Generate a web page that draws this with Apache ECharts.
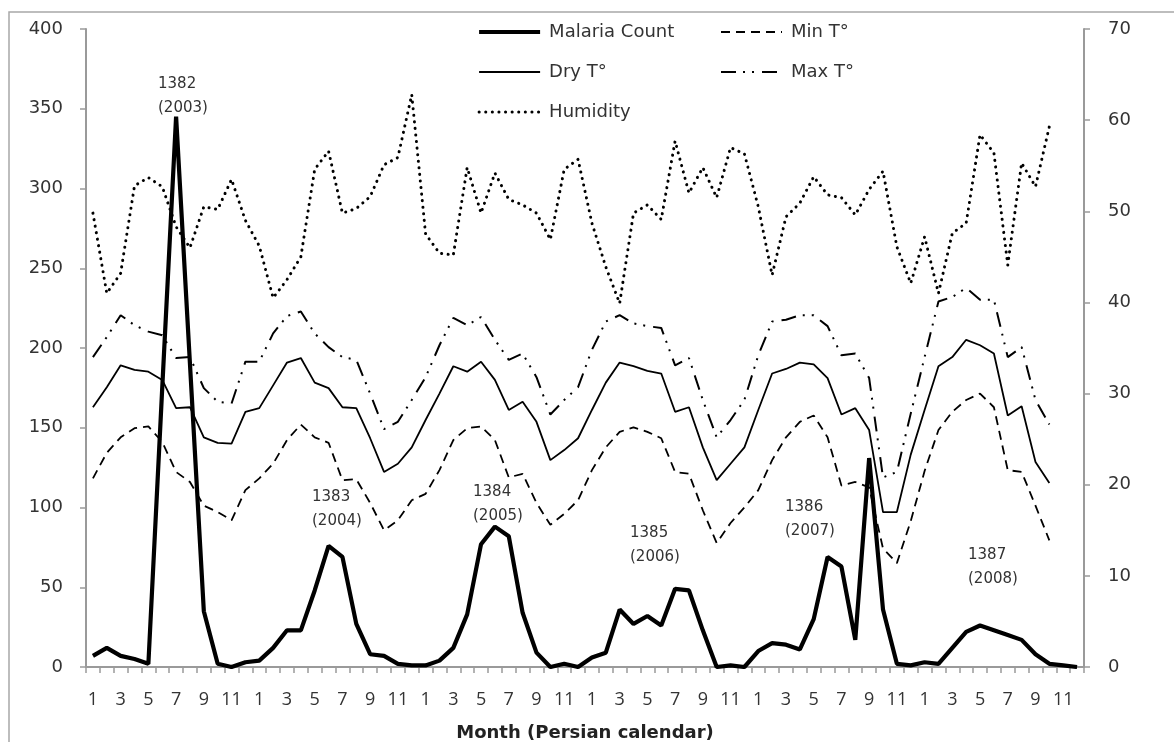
<!DOCTYPE html>
<html>
<head>
<meta charset="utf-8">
<script src="https://cdn.jsdelivr.net/npm/echarts@6/dist/echarts.min.js"></script>
<style>
    html, body { margin: 0; padding: 0; background: #fff; }
    #chart { width: 1174px; height: 742px; }
</style>
</head>
<body>
<div id="chart"></div>
<script>
const FONT = '"Open Sans", "Noto Sans", sans-serif';
const WIDE_FONT = '"DejaVu Sans", "Open Sans", sans-serif';

// month of the Persian calendar, 6 years (1382-1387)
const months = [];
for (let y = 0; y < 6; y++) {
    for (let m = 1; m <= 12; m++) months.push(String(m));
}

// left axis
const malaria = [
    7, 12, 7, 5, 2, 175, 345, 190, 35, 2, 0, 3,
    4, 12, 23, 23, 48, 76, 69, 27, 8, 7, 2, 1,
    1, 4, 12, 33, 77, 88, 82, 34, 9, 0, 2, 0,
    6, 9, 36, 27, 32, 26, 49, 48, 23, 0, 1, 0,
    10, 15, 14, 11, 30, 69, 63, 17, 131, 36, 2, 1,
    3, 2, 12, 22, 26, 23, 20, 17, 8, 2, 1, 0
];

// right axis
const minT = [
    20.7, 23.5, 25.2, 26.2, 26.4, 24.7, 21.4, 20.3, 17.7, 17.0, 16.1, 19.4,
    20.7, 22.3, 24.9, 26.6, 25.2, 24.6, 20.5, 20.6, 18.0, 15.0, 16.1, 18.3,
    19.0, 21.6, 24.9, 26.2, 26.4, 24.9, 20.8, 21.2, 18.0, 15.6, 16.8, 18.3,
    21.6, 24.1, 25.8, 26.3, 25.8, 25.1, 21.4, 21.2, 17.2, 13.6, 15.8, 17.5,
    19.4, 22.7, 25.2, 26.9, 27.6, 25.2, 19.9, 20.3, 19.7, 13.0, 11.4, 16.0,
    21.5, 26.0, 28.0, 29.3, 30.0, 28.5, 21.6, 21.4, 17.7, 13.9, null, null
];
const maxT = [
    34.0, 36.2, 38.6, 37.5, 36.8, 36.4, 33.9, 34.0, 30.6, 29.1, 28.9, 33.5,
    33.5, 36.6, 38.5, 39.0, 36.6, 35.1, 34.0, 33.7, 30.0, 26.1, 26.9, 29.3,
    31.8, 35.3, 38.3, 37.5, 38.4, 35.9, 33.7, 34.4, 31.8, 27.7, 29.3, 30.7,
    34.8, 37.9, 38.6, 37.7, 37.4, 37.2, 33.1, 33.9, 29.3, 25.2, 27.1, 29.3,
    34.2, 37.9, 38.1, 38.6, 38.6, 37.4, 34.2, 34.4, 31.7, 20.8, 21.4, 27.8,
    34.0, 40.1, 40.6, 41.6, 40.3, 40.3, 34.0, 35.1, 29.3, 26.6, null, null
];
const dryT = [
    28.5, 30.7, 33.1, 32.6, 32.4, 31.5, 28.4, 28.5, 25.2, 24.6, 24.5, 28.0,
    28.4, 30.9, 33.4, 33.9, 31.2, 30.6, 28.5, 28.4, 25.1, 21.4, 22.3, 24.1,
    27.1, 30.0, 33.0, 32.4, 33.5, 31.5, 28.2, 29.1, 26.9, 22.7, 23.8, 25.1,
    28.2, 31.2, 33.4, 33.0, 32.5, 32.2, 28.0, 28.5, 24.1, 20.5, 22.3, 24.1,
    28.2, 32.2, 32.7, 33.4, 33.2, 31.7, 27.7, 28.4, 26.0, 17.0, 17.0, 23.3,
    28.2, 33.0, 34.0, 35.9, 35.3, 34.4, 27.6, 28.6, 22.5, 20.2, null, null
];
const humidity = [
    49.8, 41.0, 43.2, 52.8, 53.7, 52.7, 48.3, 46.0, 50.5, 50.2, 53.5, 49.0,
    46.2, 40.5, 42.5, 45.0, 54.6, 56.6, 49.8, 50.3, 51.6, 55.1, 55.9, 62.8,
    47.5, 45.4, 45.2, 54.8, 49.8, 54.2, 51.3, 50.7, 49.8, 46.9, 54.6, 55.7,
    48.7, 43.9, 39.9, 49.8, 50.7, 49.1, 57.7, 52.0, 54.8, 51.5, 57.0, 56.3,
    50.5, 43.0, 49.4, 50.9, 53.8, 51.8, 51.5, 49.6, 52.4, 54.4, 46.1, 42.1,
    47.2, 41.0, 47.6, 48.7, 58.4, 56.4, 44.1, 55.3, 52.7, 59.3, null, null
];

const leftTicks = { min: 0, max: 400, interval: 50 };
const rightTicks = { min: 0, max: 70, interval: 10 };

// year notes: [text, left, top]
const yearNotes = [
    ['1382\n(2003)', 158, 72],
    ['1383\n(2004)', 312, 485],
    ['1384\n(2005)', 473, 480],
    ['1385\n(2006)', 630, 521],
    ['1386\n(2007)', 785, 495],
    ['1387\n(2008)', 968, 543]
];

const chart = echarts.init(document.getElementById('chart'));

const axisGray = '#9a9a9a';
const styles = {
    'Malaria Count': { width: 4.2 },
    'Dry T°': { width: 1.8 },
    'Humidity': { width: 3, type: [0.1, 6.5], cap: 'round' },
    'Min T°': { width: 1.8, type: [9, 6] },
    'Max T°': { width: 2, type: [15, 7, 2, 7, 2, 8] }
};

function lineSeries(name, data, yAxisIndex, z) {
    return {
        name: name,
        type: 'line',
        data: data,
        yAxisIndex: yAxisIndex,
        symbol: 'none',
        connectNulls: false,
        z: z,
        itemStyle: { color: '#000' },
        lineStyle: Object.assign({ color: '#000' }, styles[name])
    };
}

function legendItems(names) {
    return names.map(n => ({ name: n, lineStyle: Object.assign({ color: '#000' }, styles[n]) }));
}

const legendCommon = {
    orient: 'vertical',
    top: 21,
    padding: 0,
    itemWidth: 61,
    itemHeight: 14,
    itemGap: 18,
    itemStyle: { opacity: 0 },
    textStyle: { color: '#333', fontFamily: WIDE_FONT, fontSize: 18, lineHeight: 22, padding: [0, 0, 0, 4] },
    selectedMode: false
};

chart.setOption({
    backgroundColor: '#fff',
    animation: false,
    grid: { left: 86, right: 90, top: 29, bottom: 75, containLabel: false, outerBoundsMode: 'none' },
    legend: [
        Object.assign({}, legendCommon, { left: 477, data: legendItems(['Malaria Count', 'Dry T°', 'Humidity']) }),
        Object.assign({}, legendCommon, { left: 720, data: legendItems(['Min T°', 'Max T°']) })
    ],
    xAxis: {
        type: 'category',
        data: months,
        boundaryGap: true,
        name: 'Month (Persian calendar)',
        nameLocation: 'middle',
        nameGap: 57,
        nameTextStyle: { color: '#222', fontFamily: WIDE_FONT, fontSize: 18, fontWeight: 'bold' },
        axisLine: { lineStyle: { color: axisGray, width: 2 } },
        axisTick: { show: true, interval: 0, length: 6, lineStyle: { color: axisGray, width: 1.5 } },
        axisLabel: { interval: 1, margin: 24, color: '#333', fontFamily: FONT, fontSize: 18 },
        splitLine: { show: false }
    },
    yAxis: [
        Object.assign({
            type: 'value',
            position: 'left',
            axisLine: { show: true, lineStyle: { color: axisGray, width: 2 } },
            axisTick: { show: true, length: 6, lineStyle: { color: axisGray, width: 1.5 } },
            axisLabel: { margin: 23, color: '#333', fontFamily: WIDE_FONT, fontSize: 18 },
            splitLine: { show: false }
        }, leftTicks),
        Object.assign({
            type: 'value',
            position: 'right',
            axisLine: { show: true, lineStyle: { color: axisGray, width: 2 } },
            axisTick: { show: true, length: 6, lineStyle: { color: axisGray, width: 1.5 } },
            axisLabel: { margin: 24, color: '#333', fontFamily: WIDE_FONT, fontSize: 18 },
            splitLine: { show: false }
        }, rightTicks)
    ],
    series: [
        lineSeries('Malaria Count', malaria, 0, 10),
        lineSeries('Dry T°', dryT, 1, 5),
        lineSeries('Humidity', humidity, 1, 4),
        lineSeries('Min T°', minT, 1, 5),
        lineSeries('Max T°', maxT, 1, 5)
    ],
    graphic: [
        {
            type: 'rect',
            silent: true,
            shape: { x: 9, y: 12, width: 1300, height: 900 },
            style: { fill: 'none', stroke: '#a8a8a8', lineWidth: 1.5 }
        }
    ].concat(yearNotes.map(n => ({
        type: 'text',
        silent: true,
        left: n[1],
        top: n[2],
        style: {
            text: n[0],
            fill: '#333',
            font: '15px ' + WIDE_FONT,
            lineHeight: 24
        }
    })))
});
</script>
</body>
</html>
